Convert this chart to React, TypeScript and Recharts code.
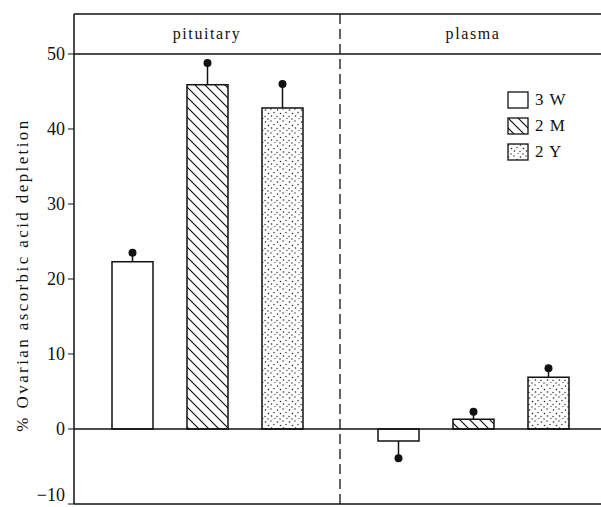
import React from "react";
import { Bar, BarChart, ReferenceLine, XAxis, YAxis } from "recharts";

const groups = ["pituitary", "plasma"];
const series = ["3 W", "2 M", "2 Y"];
const w3 = [22.3, -1.6];
const m2 = [45.9, 1.3];
const y2 = [42.8, 6.9];
const w3Err = [1.2, 2.3];
const m2Err = [2.9, 1.0];
const y2Err = [3.2, 1.2];
const yTicks = [-10, 0, 10, 20, 30, 40, 50];
const yMin = -10;
const yMax = 55.33;

const data = groups.map((g, i) => ({
  group: g,
  w3: w3[i],
  m2: m2[i],
  y2: y2[i],
  w3Err: w3Err[i],
  m2Err: m2Err[i],
  y2Err: y2Err[i],
}));

const FONT = "'Liberation Serif', 'DejaVu Serif', serif";
const fills = ["#fff", "url(#hatch)", "url(#stipple)"];

// bar rect plus the error whisker ending in a filled dot
function BarWithDot(props: any) {
  const { x, y, width, height, payload, valueKey, errKey, fill } = props;
  const v = payload[valueKey];
  const e = payload[errKey];
  const top = Math.min(y, y + height);
  const h = Math.abs(height);
  if (!v) return null;
  const ppu = h / Math.abs(v);
  const cx = x + width / 2;
  const edge = v >= 0 ? top : top + h;
  const tip = v >= 0 ? edge - e * ppu : edge + e * ppu;
  return (
    <g>
      <rect x={x} y={top} width={width} height={h} fill={fill} stroke="#111" strokeWidth={1.5} />
      <line x1={cx} y1={edge} x2={cx} y2={tip} stroke="#111" strokeWidth={1.5} />
      <circle cx={cx} cy={tip} r={4} fill="#111" />
    </g>
  );
}

function YTick(props: any) {
  const { x, y, payload } = props;
  const v = payload.value;
  // the bottom label sits on the frame edge; nudge it up so it stays inside
  const yy = v === yMin ? y - 9 : y;
  return (
    <text x={x} y={yy} dy="0.355em" textAnchor="end" fontFamily={FONT} fontSize={18} fill="#111">
      {v < 0 ? `\u2212${Math.abs(v)}` : `${v}`}
    </text>
  );
}

function HeaderLabel(props: any) {
  const { viewBox, value } = props;
  return (
    <text
      x={viewBox.x}
      y={viewBox.y + 25}
      textAnchor="middle"
      fontFamily={FONT}
      fontSize={16}
      letterSpacing={1.6}
      fill="#111"
    >
      {value}
    </text>
  );
}

function LegendBox() {
  return (
    <div style={{ position: "absolute", left: 507, top: 87, fontFamily: FONT, fontSize: 17, color: "#111" }}>
      {series.map((s, i) => (
        <div key={s} style={{ display: "flex", alignItems: "center", height: 26 }}>
          <svg width={22} height={18} style={{ marginRight: 6 }}>
            <rect x={1} y={1} width={20} height={16} fill={fills[i]} stroke="#111" strokeWidth={1.3} />
          </svg>
          <span style={{ letterSpacing: 1 }}>{s}</span>
        </div>
      ))}
    </div>
  );
}

function YLabel(props: any) {
  const { viewBox } = props;
  const cx = 22;
  const cy = viewBox.y + viewBox.height / 2 + 16;
  return (
    <text
      x={cx}
      y={cy}
      transform={`rotate(-90, ${cx}, ${cy})`}
      textAnchor="middle"
      dominantBaseline="central"
      fontFamily={FONT}
      fontSize={17}
      letterSpacing={2.4}
      fill="#111"
    >
      % Ovarian ascorbic acid depletion
    </text>
  );
}

export default function App() {
  return (
    <div style={{ position: "absolute", left: 0, top: 0, width: 601, height: 507, overflow: "hidden", background: "#fff" }}>
      <BarChart
        width={610}
        height={507}
        data={data}
        margin={{ top: 14, right: 4, bottom: 3, left: 0 }}
        barSize={41}
        barGap={34}
      >
        <defs>
          <pattern id="hatch" patternUnits="userSpaceOnUse" width={10} height={10}>
            <path d="M0,0 L10,10 M-5,5 L5,15 M5,-5 L15,5" stroke="#111" strokeWidth={1.2} />
          </pattern>
          <pattern id="stipple" patternUnits="userSpaceOnUse" width={12} height={12}>
            <rect width={12} height={12} fill="#fff" />
            <circle cx={1.5} cy={2} r={0.8} fill="#222" />
            <circle cx={7} cy={1} r={0.7} fill="#222" />
            <circle cx={4.5} cy={5.5} r={0.8} fill="#222" />
            <circle cx={10} cy={4.5} r={0.7} fill="#222" />
            <circle cx={1} cy={8.5} r={0.7} fill="#222" />
            <circle cx={7.5} cy={8} r={0.8} fill="#222" />
            <circle cx={11} cy={10.5} r={0.6} fill="#222" />
            <circle cx={4} cy={11} r={0.7} fill="#222" />
          </pattern>
        </defs>
        <XAxis dataKey="group" tick={false} tickLine={false} axisLine={false} height={0} />
        <YAxis
          type="number"
          domain={[yMin, yMax]}
          ticks={yTicks}
          interval={0}
          allowDataOverflow
          width={74}
          tickSize={6}
          tickMargin={3}
          tick={<YTick />}
          tickLine={{ stroke: "#111" }}
          axisLine={{ stroke: "#111", strokeWidth: 1.5 }}
          label={<YLabel />}
        />
        <ReferenceLine y={yMax} stroke="#111" strokeWidth={1.5} />
        <ReferenceLine y={50} stroke="#111" strokeWidth={1.5} />
        <ReferenceLine y={0} stroke="#111" strokeWidth={1.5} />
        <ReferenceLine y={yMin} stroke="#111" strokeWidth={1.5} />
        <ReferenceLine x="plasma" position="start" stroke="#111" strokeWidth={1.3} strokeDasharray="10 5" />
        {groups.map((g) => (
          <ReferenceLine key={g} x={g} stroke="none" label={<HeaderLabel value={g} />} />
        ))}
        {(["w3", "m2", "y2"] as const).map((k, i) => (
          <Bar
            key={k}
            dataKey={k}
            name={series[i]}
            fill={fills[i]}
            isAnimationActive={false}
            shape={(p: any) => <BarWithDot {...p} valueKey={k} errKey={`${k}Err`} fill={fills[i]} />}
          />
        ))}
      </BarChart>
      <LegendBox />
    </div>
  );
}
